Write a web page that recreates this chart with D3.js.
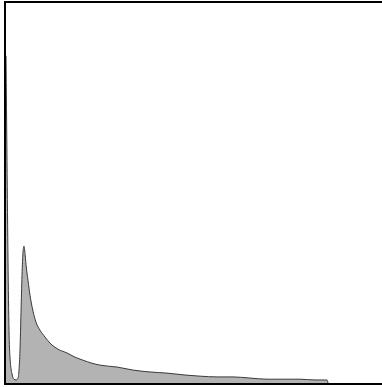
<!DOCTYPE html>
<html>
<head>
<meta charset="utf-8">
<script src="https://cdn.jsdelivr.net/npm/d3@7"></script>
<style>
  html, body { margin: 0; padding: 0; background: #fff; }
  svg { display: block; }
</style>
</head>
<body>
<svg id="chart" width="382" height="387"></svg>
<script>
// Distribution: bin position and count per bin
const binPos = [0, 1, 2, 3, 4, 6, 8, 10, 12, 13, 14, 15, 16, 17, 18, 19, 20, 22, 24, 27, 30, 34, 39, 44, 52, 61, 69, 77, 86, 94, 111, 127, 144, 161, 179, 194, 211, 227, 244, 261, 277, 294, 309, 321, 322];
const binCount = [861, 585, 323, 139, 66, 24, 10, 8, 13, 34, 87, 186, 283, 344, 360, 341, 312, 270, 231, 189, 160, 139, 121, 105, 89, 79, 68, 60, 52, 47, 42, 34, 29, 26, 21, 18, 16, 16, 13, 10, 10, 10, 8, 8, 0];
const xDomain = [0, 394];
const yDomain = [0, 1000];

const svg = d3.select("#chart");
const plot = { left: 5, top: 2, right: 400, bottom: 384 };

const x = d3.scaleLinear().domain(xDomain).range([plot.left + 1, plot.right]);
const y = d3.scaleLinear().domain(yDomain).range([plot.bottom - 1, plot.top + 1]);

const data = binPos.map((p, i) => ({ p, c: binCount[i] }));

const area = d3.area()
  .x(d => x(d.p))
  .y0(y(0))
  .y1(d => y(d.c))
  .curve(d3.curveMonotoneX);

const line = d3.line()
  .x(d => x(d.p))
  .y(d => y(d.c))
  .curve(d3.curveMonotoneX);

svg.append("path")
  .datum(data)
  .attr("d", area)
  .attr("fill", "#b3b3b3");

svg.append("path")
  .datum(data)
  .attr("d", line)
  .attr("fill", "none")
  .attr("stroke", "#3a3a3a")
  .attr("stroke-width", 1);

// Frame around the plot area
svg.append("rect")
  .attr("x", plot.left)
  .attr("y", plot.top)
  .attr("width", plot.right - plot.left)
  .attr("height", plot.bottom - plot.top)
  .attr("fill", "none")
  .attr("stroke", "#000")
  .attr("stroke-width", 2);
</script>
</body>
</html>
